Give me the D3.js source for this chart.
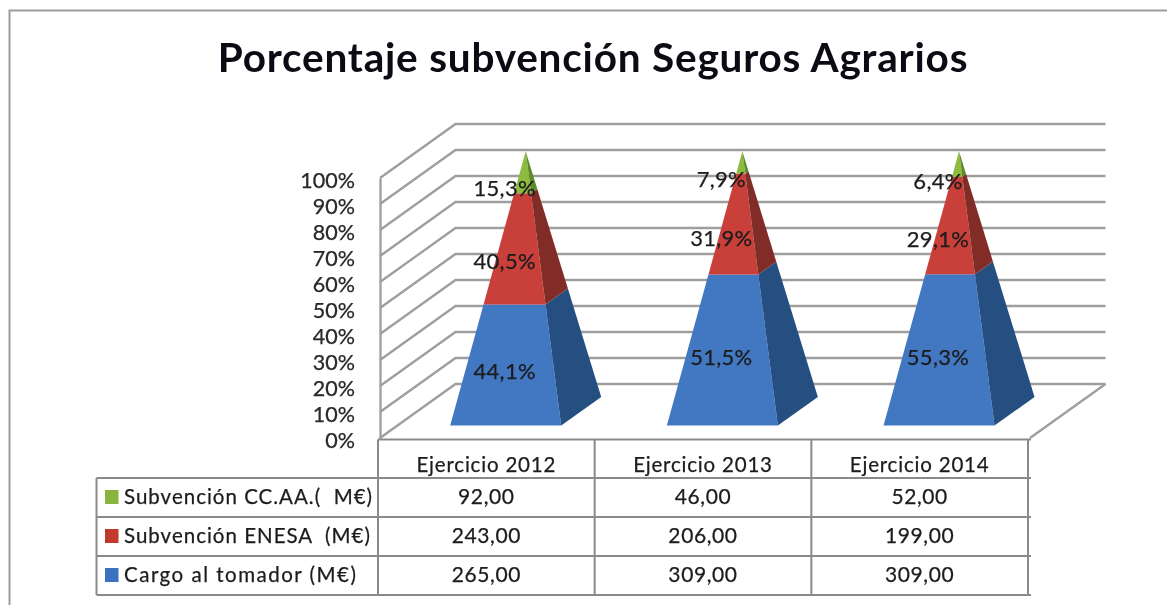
<!DOCTYPE html>
<html lang="es">
<head>
<meta charset="utf-8">
<script src="https://cdn.jsdelivr.net/npm/d3@7"></script>
<style>
html,body{margin:0;padding:0;background:#fff}
svg{display:block;filter:blur(0.6px)}
text{font-family:Lato,"Open Sans",sans-serif;fill:#1c1c1c;white-space:pre;stroke:#1c1c1c;stroke-width:0.25px}
</style>
</head>
<body>
<div id="chart"></div>
<script>
const title = "Porcentaje subvención Seguros Agrarios";
const categories = ["Ejercicio 2012","Ejercicio 2013","Ejercicio 2014"];
const seriesNames = ["Cargo al tomador (M€)","Subvención ENESA  (M€)","Subvención CC.AA.(  M€)"];
const cargo = [265,309,309];
const enesa = [243,206,199];
const ccaa = [92,46,52];
const cargoLabels = ["44,1%","51,5%","55,3%"];
const enesaLabels = ["40,5%","31,9%","29,1%"];
const ccaaLabels = ["15,3%","7,9%","6,4%"];
const frontColors = ["#4277c2","#c93f3a","#8dbb3f"];
const sideColors = ["#254f80","#822c28","#5f8c2a"];
const swatchColors = ["#3c70c0","#c0392f","#8ab43f"];

const W=1167,H=605;
const svg=d3.select("#chart").append("svg").attr("width",W).attr("height",H);
const grey="#9e9e9e";

// frame
svg.append("path").attr("d","M9.5 605V10.5H1167").attr("fill","none").attr("stroke","#9c9c9c").attr("stroke-width",2);

svg.append("text").attr("x",593).attr("y",72).attr("text-anchor","middle")
  .attr("font-size",40.5).attr("font-weight",700).attr("letter-spacing",0.8)
  .style("fill","#0b0b14").style("stroke","none").text(title);

// 3D projection
const x=d3.scaleBand().domain(categories).range([380,1030]);
const y=d3.scaleLinear().domain([0,100]).range([438,178]);
const depthX=d3.scaleLinear().domain([0,1]).range([0,75.5]);
const depthY=d3.scaleLinear().domain([0,1]).range([0,-54]);
const proj=(px,z,pct)=>[px+depthX(z),y(pct)+depthY(z)];
const ticks=d3.range(0,101,10);

// gridlines on walls
const wall=svg.append("g").attr("fill","none").attr("stroke",grey).attr("stroke-width",2.3);
wall.selectAll("path.g").data(ticks).join("path").attr("class","g")
  .attr("d",t=>d3.line()([proj(380,0,t),proj(380,1,t),proj(1030,1,t)]));
wall.append("path").attr("d",d3.line()([proj(1030,1,0),proj(1030,0,0)]));

// y axis
const axis=svg.append("g").attr("transform","translate(380,0)")
  .call(d3.axisLeft(y).tickValues(ticks).tickFormat(d=>d+"%").tickSize(0).tickPadding(25));
axis.select(".domain").attr("stroke",grey).attr("stroke-width",2.3);
axis.selectAll("text").attr("font-size",21.5).attr("dy","0.42em").attr("font-family","Lato").style("fill","#2a2a2a");

// pyramids
const halfW=55.5, zFront=0.23, zBack=0.76, zMid=(zFront+zBack)/2;
const stacks=[cargo,enesa,ccaa];
const labels=[cargoLabels,enesaLabels,ccaaLabels];
const lerp=(a,b,t)=>[a[0]+(b[0]-a[0])*t,a[1]+(b[1]-a[1])*t];
const marks=svg.append("g"), labelG=svg.append("g");
categories.forEach((c,i)=>{
  const cx=x(c)+x.bandwidth()/2;
  const total=d3.sum(stacks,s=>s[i]);
  const apex=proj(cx,zMid,100);
  const fl=proj(cx-halfW,zFront,0), fr=proj(cx+halfW,zFront,0), br=proj(cx+halfW,zBack,0);
  let acc=0;
  stacks.forEach((s,k)=>{
    const p0=acc/total*100, p1=(acc+s[i])/total*100; acc+=s[i];
    const t0=p0/100,t1=p1/100;
    marks.append("path").attr("fill",frontColors[k])
      .attr("d",d3.line()([lerp(fl,apex,t0),lerp(fr,apex,t0),lerp(fr,apex,t1),lerp(fl,apex,t1)])+"Z");
    marks.append("path").attr("fill",sideColors[k])
      .attr("d",d3.line()([lerp(fr,apex,t0),lerp(br,apex,t0),lerp(br,apex,t1),lerp(fr,apex,t1)])+"Z");
    const lp=proj(cx,zFront,(p0+p1)/2);
    labelG.append("text").attr("x",lp[0]-1).attr("y",lp[1]+3).attr("dy","0.36em")
      .attr("text-anchor","middle").attr("font-size",22).attr("letter-spacing",0.3).text(labels[k][i]);
  });
});

// data table
const rowLines=[478,517,556,595];
const tableLeft=96.5;
const rowNames=[seriesNames[2],seriesNames[1],seriesNames[0]];
const rowVals=[ccaa,enesa,cargo];
const rowSw=[swatchColors[2],swatchColors[1],swatchColors[0]];
const rowTrack=[1,1,1.5];
const tbl=svg.append("g").attr("fill","none").attr("stroke","#8a8a8a").attr("stroke-width",2);
tbl.selectAll("path.h").data(rowLines).join("path").attr("class","h")
  .attr("d",v=>`M${tableLeft} ${v}H1031`);
tbl.append("path").attr("d",`M378 439.5H1031M${tableLeft} 478V595M378 439.5V595`);
tbl.selectAll("path.v").data(categories).join("path").attr("class","v")
  .attr("d",c=>`M${x(c)+x.bandwidth()-2} 439.5V595`);
const tt=svg.append("g");
tt.selectAll("text.c").data(categories).join("text").attr("class","c")
  .attr("x",c=>x(c)+x.bandwidth()/2-2).attr("y",472).attr("text-anchor","middle")
  .attr("font-size",20.5).attr("letter-spacing",0.8).text(c=>c);
rowNames.forEach((n,r)=>{
  const mid=(rowLines[r]+rowLines[r+1])/2;
  tt.append("rect").attr("x",105).attr("y",mid-7.5).attr("width",13.5).attr("height",14).attr("fill",rowSw[r]);
  tt.append("text").attr("x",124).attr("y",mid+6.5).attr("font-size",20.5).attr("letter-spacing",rowTrack[r]).text(n);
  categories.forEach((c,i)=>{
    tt.append("text").attr("x",x(c)+x.bandwidth()/2-2).attr("y",mid+6.5).attr("text-anchor","middle")
      .attr("font-size",21).attr("letter-spacing",0.6).text(rowVals[r][i].toFixed(2).replace(".",","));
  });
});
</script>
</body>
</html>
